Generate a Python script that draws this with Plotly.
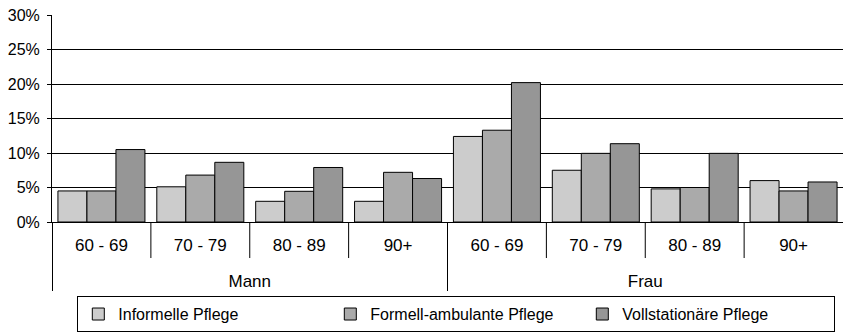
import plotly.graph_objects as go

genders = ["Mann"] * 4 + ["Frau"] * 4
ages = ["60 - 69", "70 - 79", "80 - 89", "90+"] * 2
series_names = ["Informelle Pflege", "Formell-ambulante Pflege", "Vollstationäre Pflege"]
informelle = [4.5, 5.1, 3.0, 3.0, 12.4, 7.5, 4.8, 6.0]
formell = [4.5, 6.8, 4.45, 7.2, 13.3, 9.95, 5.0, 4.5]
voll = [10.5, 8.65, 7.9, 6.3, 20.2, 11.35, 9.95, 5.8]
y_ticks = [0, 5, 10, 15, 20, 25, 30]

colors = ["#CCCCCC", "#AAAAAA", "#969696"]
font_fam = "Liberation Sans, Arial"

# outer labels pushed one line down to match the reference row spacing
outer_labels = ["<br>" + g for g in genders]

fig = go.Figure()
for name, vals, col in zip(series_names, [informelle, formell, voll], colors):
    fig.add_trace(go.Bar(
        x=[outer_labels, ages],
        y=[v / 100 for v in vals],
        name=name,
        marker=dict(color=col, line=dict(color="#000000", width=1)),
    ))

# short dividers between inner categories
shapes = []
for i in range(1, 8):
    if i == 4:
        continue
    shapes.append(dict(type="line", xref="x", yref="paper",
                       x0=i - 0.5, x1=i - 0.5, y0=0, y1=-0.174,
                       line=dict(color="#000000", width=1)))

fig.update_layout(
    width=843, height=334,
    margin=dict(l=52, r=0, t=15, b=112, autoexpand=False),
    plot_bgcolor="white", paper_bgcolor="white",
    barmode="group", bargap=0.12, bargroupgap=0,
    font=dict(family=font_fam, size=17, color="#000000"),
    shapes=shapes,
    legend=dict(orientation="h", x=0.032, xanchor="left", y=-0.532, yanchor="bottom",
                bordercolor="#000000", borderwidth=1,
                entrywidth=207, entrywidthmode="pixels",
                font=dict(family=font_fam, size=16), traceorder="normal"),
    yaxis=dict(range=[0, 0.3], tickvals=[t / 100 for t in y_ticks], tickformat=".0%",
               showgrid=True, gridcolor="#000000", gridwidth=1,
               showline=True, linecolor="#000000", linewidth=1,
               ticks="outside", ticklen=4, tickcolor="#000000",
               ticklabelstandoff=4,
               tickfont=dict(size=16), zeroline=False, automargin=False),
    xaxis=dict(type="multicategory", showline=True, linecolor="#000000", linewidth=1,
               showdividers=True, dividercolor="#000000", dividerwidth=1,
               ticklabelstandoff=8,
               tickfont=dict(family=font_fam, size=17), automargin=False),
)

fig.write_html("out.html", config={"displayModeBar": False},
               post_script="document.body.style.margin='0';")
